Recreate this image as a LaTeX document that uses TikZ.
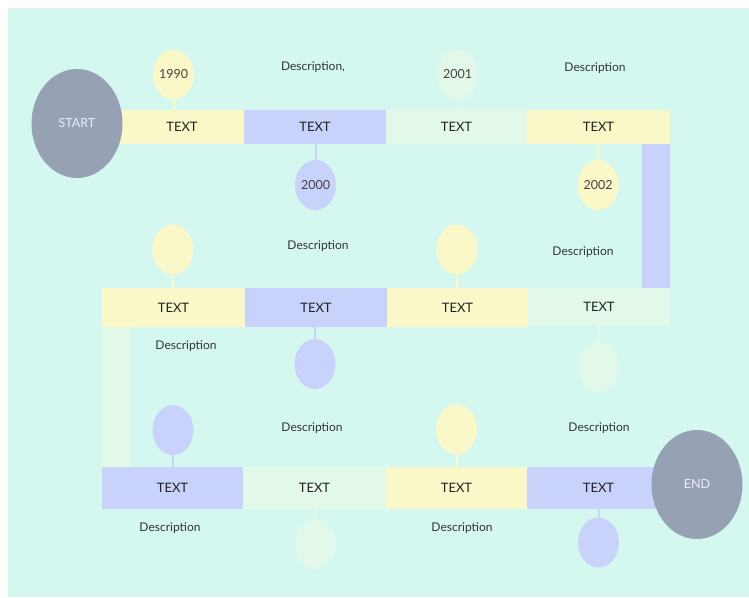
\documentclass[tikz,border=0pt]{standalone}
\usepackage{fontspec}
\setmainfont{Lato}
\usetikzlibrary{shapes.geometric}
\definecolor{bg}{HTML}{D4F8EF}
\definecolor{cy}{HTML}{FAF8C8}
\definecolor{cb}{HTML}{C8D2FA}
\definecolor{cg}{HTML}{E2F8E8}
\definecolor{cgray}{HTML}{96A2B4}
\definecolor{tdark}{HTML}{222222}
\definecolor{tyear}{HTML}{444444}
\definecolor{tdesc}{HTML}{333333}
\begin{document}
\begin{tikzpicture}[x=1pt,y=-1pt,
  bar/.style={rectangle,inner sep=0pt,font=\fontsize{13}{15}\selectfont,text=tdark},
  vbar/.style={rectangle,inner sep=0pt,minimum width=28pt},
  dot/.style={ellipse,inner sep=0pt,minimum width=41pt,minimum height=50pt,font=\fontsize{12.5}{15}\selectfont,text=tyear},
  big/.style={ellipse,inner sep=0pt,fill=cgray,minimum width=91pt,minimum height=109pt,text=white!92!blue,font=\fontsize{12.5}{15}\selectfont},
  desc/.style={font=\fontsize{12}{14}\selectfont,text=tdesc,inner sep=0pt},
  conn/.style={line width=2pt}]
\useasboundingbox (0,0) rectangle (749,597);
\fill[bg] (8,8) rectangle (749,597);
% row 1
\node[bar,fill=cy,minimum width=124pt,minimum height=34pt] (r1a) at (182,127) {TEXT};
\node[bar,fill=cb,minimum width=142pt,minimum height=34pt] (r1b) at (315,127) {TEXT};
\node[bar,fill=cg,minimum width=141pt,minimum height=34pt] (r1c) at (456.5,127) {TEXT};
\node[bar,fill=cy,minimum width=143pt,minimum height=34pt] (r1d) at (598.5,127) {TEXT};
\node[vbar,fill=cb,minimum height=144pt] (v1) at (656,216) {};
% row 2
\node[bar,fill=cy,minimum width=143pt,minimum height=39pt] (r2a) at (173.5,307.5) {TEXT};
\node[bar,fill=cb,minimum width=142pt,minimum height=39pt] (r2b) at (316,307.5) {TEXT};
\node[bar,fill=cy,minimum width=141pt,minimum height=39pt] (r2c) at (457.5,307.5) {TEXT};
\node[bar,fill=cg,minimum width=142pt,minimum height=37pt] (r2d) at (599,306.5) {TEXT};
\node[vbar,fill=cg,minimum height=140pt] (v2) at (116,397) {};
% row 3
\node[bar,fill=cb,minimum width=141pt,minimum height=42pt] (r3a) at (172.5,488) {TEXT};
\node[bar,fill=cg,minimum width=143pt,minimum height=42pt] (r3b) at (314.5,488) {TEXT};
\node[bar,fill=cy,minimum width=141pt,minimum height=42pt] (r3c) at (456.5,488) {TEXT};
\node[bar,fill=cb,minimum width=143pt,minimum height=42pt] (r3d) at (598.5,488) {TEXT};
% start / end
\node[big] (start) at (77,123.5) {START};
\node[big] (end) at (697,484.5) {END};
% circles row 1
\node[dot,fill=cy] (c1) at (173.5,74.5) {1990};
\node[dot,fill=cb] (c2) at (315.5,185) {2000};
\node[dot,fill=cg] (c3) at (457.5,74.5) {2001};
\node[dot,fill=cy] (c4) at (598,185) {2002};
\draw[conn,cy] (c1) -- (c1 |- r1a.north);
\draw[conn,cb] (c2) -- (c2 |- r1b.south);
\draw[conn,cg] (c3) -- (c3 |- r1c.north);
\draw[conn,cy] (c4) -- (c4 |- r1d.south);
% circles row 2
\node[dot,fill=cy] (c5) at (173,249.5) {};
\node[dot,fill=cb] (c6) at (315,364) {};
\node[dot,fill=cy] (c7) at (457,249.5) {};
\node[dot,fill=cg] (c8) at (598.5,367) {};
\draw[conn,cy] (c5) -- (c5 |- r2a.north);
\draw[conn,cb] (c6) -- (c6 |- r2b.south);
\draw[conn,cy] (c7) -- (c7 |- r2c.north);
\draw[conn,cg] (c8) -- (c8 |- r2d.south);
% circles row 3
\node[dot,fill=cb] (c9) at (173,430) {};
\node[dot,fill=cg] (c10) at (315,544) {};
\node[dot,fill=cy] (c11) at (456.5,429.5) {};
\node[dot,fill=cb] (c12) at (598.5,542.5) {};
\draw[conn,cb] (c9) -- (c9 |- r3a.north);
\draw[conn,cg] (c10) -- (c10 |- r3b.south);
\draw[conn,cy] (c11) -- (c11 |- r3c.north);
\draw[conn,cb] (c12) -- (c12 |- r3d.south);
% descriptions
\node[desc] (d1) at (313,67) {Description,};
\node[desc] (d2) at (595,68) {Description};
\node[desc] (d3) at (318,246.5) {Description};
\node[desc] (d4) at (583,252) {Description};
\node[desc] (d5) at (186,346.5) {Description};
\node[desc] (d6) at (312,428) {Description};
\node[desc] (d7) at (599,428) {Description};
\node[desc] (d8) at (170,528) {Description};
\node[desc] (d9) at (462,528) {Description};
\end{tikzpicture}
\end{document}
